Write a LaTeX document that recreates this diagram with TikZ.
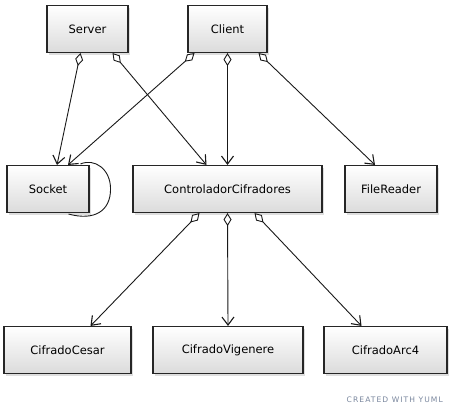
\documentclass[tikz,border=0pt]{standalone}
\usepackage{fontspec}
\setmainfont{DejaVu Sans}
\usetikzlibrary{arrows.meta,shadows,calc}
\definecolor{yumlc}{rgb}{0.48,0.53,0.62}
\tikzset{
  cls/.style={draw=black!85, line width=1.1pt, top color=white, bottom color=black!14,
    drop shadow={shadow xshift=2pt, shadow yshift=-2pt, fill=black!25},
    minimum height=47pt, inner sep=0pt, font=\fontsize{11.5}{13}\selectfont},
  agg/.style={line width=0.9pt, draw=black!90,
    {Diamond[open, length=13pt, width=8pt, line width=0.9pt]}-{Straight Barb[length=8pt, width=12pt, line width=1.1pt]}},
}
\begin{document}
\begin{tikzpicture}[x=1pt,y=-1pt]
\useasboundingbox (0,0) rectangle (460,415);
\fill[white] (0,0) rectangle (460,415);
% nodes
\node[cls, minimum width=81pt] (server) at (87.5,29) {Server};
\node[cls, minimum width=79pt] (client) at (227.5,29) {Client};
\node[cls, minimum width=82pt] (socket) at (48,189) {Socket};
\node[cls, minimum width=189pt] (ctrl) at (227.5,189) {ControladorCifradores};
\node[cls, minimum width=92pt] (file) at (391,189) {FileReader};
\node[cls, minimum width=127pt] (cesar) at (67.5,350) {CifradoCesar};
\node[cls, minimum width=150pt] (vig) at (228,350) {CifradoVigenere};
\node[cls, minimum width=123pt] (arc) at (385.5,350) {CifradoArc4};
\node[text=yumlc, font=\fontsize{7.6}{8}\selectfont\addfontfeature{LetterSpace=14}, anchor=east, inner sep=0pt] (yuml) at (443,400) {CREATED WITH YUML};
% edges
\draw[agg] ([xshift=-7pt]server.south) -- ([xshift=9pt]socket.north);
\draw[agg] ([xshift=25pt]server.south) -- ([xshift=-21pt]ctrl.north);
\draw[agg] ([xshift=-33pt]client.south) -- ([xshift=20pt]socket.north);
\draw[agg] (client.south) -- (ctrl.north);
\draw[agg] ([xshift=31pt]client.south) -- ([xshift=-16pt]file.north);
\draw[agg] ([xshift=-28pt]ctrl.south) -- ([xshift=23pt]cesar.north);
\draw[agg] (ctrl.south) -- (vig.north);
\draw[agg] ([xshift=27pt]ctrl.south) -- ([xshift=-24pt]arc.north);
% self loop
\coordinate (ls) at ($(socket.north east)+(-9,-1)$);
\coordinate (lm) at ($(socket.east)+(21,0)$);
\coordinate (le) at ($(socket.south east)+(-21,1)$);
\draw[line width=0.9pt, draw=black!90] (ls) .. controls +(14,-6) and +(0,-20) .. (lm) .. controls +(0,22) and +(26,7) .. (le);
\end{tikzpicture}
\end{document}
